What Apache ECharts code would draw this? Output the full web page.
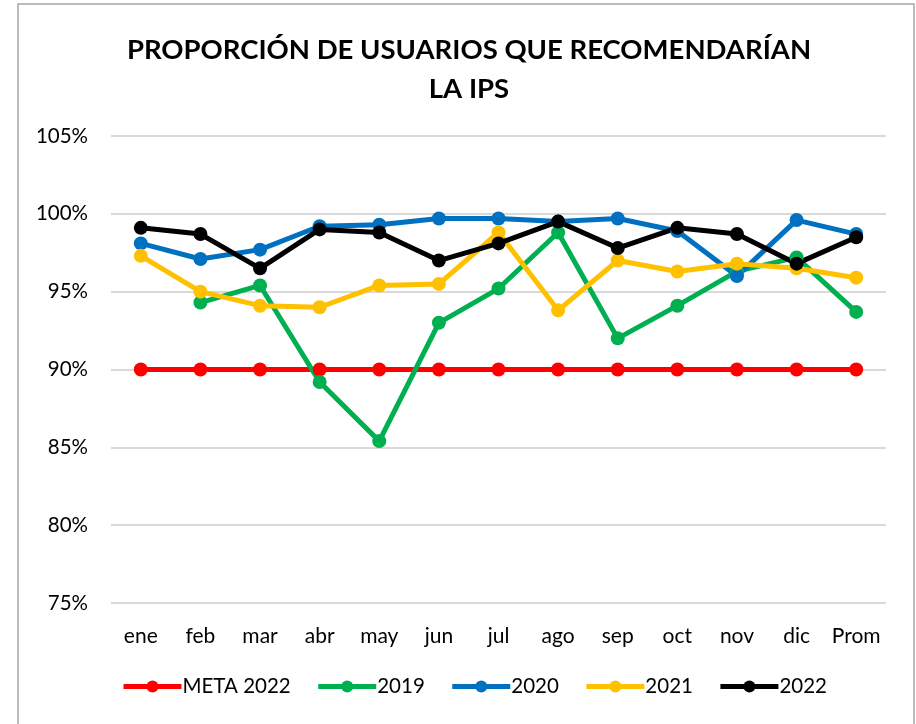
<!DOCTYPE html>
<html>
<head>
<meta charset="utf-8">
<script src="https://cdn.jsdelivr.net/npm/echarts@6/dist/echarts.min.js"></script>
<style>
  html, body { margin: 0; padding: 0; background: #fff; }
  #chart { width: 916px; height: 724px; }
</style>
</head>
<body>
<div id="chart"></div>
<script>
// categorias (meses + promedio)
var meses = ['ene', 'feb', 'mar', 'abr', 'may', 'jun', 'jul', 'ago', 'sep', 'oct', 'nov', 'dic', 'Prom']

// valores en %
var meta2022 = [90, 90, 90, 90, 90, 90, 90, 90, 90, 90, 90, 90, 90]
var datos2019 = [null, 94.3, 95.4, 89.2, 85.4, 93.0, 95.2, 98.8, 92.0, 94.1, 96.3, 97.2, 93.7]
var datos2020 = [98.1, 97.1, 97.7, 99.2, 99.3, 99.7, 99.7, 99.5, 99.7, 98.9, 96.0, 99.6, 98.7]
var datos2021 = [97.3, 95.0, 94.1, 94.0, 95.4, 95.5, 98.8, 93.8, 97.0, 96.3, 96.8, 96.5, 95.9]
var datos2022 = [99.1, 98.7, 96.5, 99.0, 98.8, 97.0, 98.1, 99.5, 97.8, 99.1, 98.7, 96.8, 98.5]

var FUENTE = 'Lato, "Open Sans", sans-serif'

function serie(nombre, datos, color) {
  return {
    name: nombre,
    type: 'line',
    data: datos,
    symbol: 'circle',
    symbolSize: 14,
    connectNulls: false,
    lineStyle: { width: 5, color: color },
    itemStyle: { color: color },
    emphasis: { disabled: true }
  }
}

var chart = echarts.init(document.getElementById('chart'))
var option = {
  backgroundColor: '#fff',
  animation: false,
  title: {
    text: 'PROPORCIÓN DE USUARIOS QUE RECOMENDARÍAN\nLA IPS',
    left: 464,
    top: 26,
    textAlign: 'center',
    textStyle: {
      fontFamily: FUENTE,
      fontWeight: 'bold',
      fontSize: 27.5,
      lineHeight: 39,
      color: '#000'
    }
  },
  legend: {
    bottom: 22,
    left: 116,
    itemWidth: 58,
    itemHeight: 15,
    itemGap: 25,
    data: ['META 2022', '2019', '2020', '2021', '2022'],
    lineStyle: { width: 5 },
    textStyle: { fontFamily: FUENTE, fontSize: 20.5, color: '#000', padding: [0, 0, 0, -4] }
  },
  grid: {
    left: 111,
    right: 30,
    top: 136,
    bottom: 121
  },
  xAxis: {
    type: 'category',
    data: meses,
    boundaryGap: true,
    axisLine: { show: false },
    axisTick: { show: false },
    axisLabel: { fontFamily: FUENTE, fontSize: 21, color: '#000', margin: 23, interval: 0 }
  },
  yAxis: {
    type: 'value',
    min: 75,
    max: 105,
    interval: 5,
    axisLine: { show: false },
    axisTick: { show: false },
    splitLine: { lineStyle: { color: '#d9d9d9', width: 2 } },
    axisLabel: {
      fontFamily: FUENTE,
      fontSize: 20.5,
      color: '#000',
      margin: 23,
      formatter: function (v) { return v + '%' }
    }
  },
  graphic: [{
    type: 'rect',
    shape: { x: 18, y: 4, width: 896, height: 730 },
    style: { fill: 'none', stroke: '#a6a6a6', lineWidth: 1.5 },
    silent: true
  }],
  series: [
    serie('META 2022', meta2022, '#ff0000'),
    serie('2019', datos2019, '#00b050'),
    serie('2020', datos2020, '#0070c0'),
    serie('2021', datos2021, '#ffc000'),
    serie('2022', datos2022, '#000000')
  ]
}
chart.setOption(option)
</script>
</body>
</html>
